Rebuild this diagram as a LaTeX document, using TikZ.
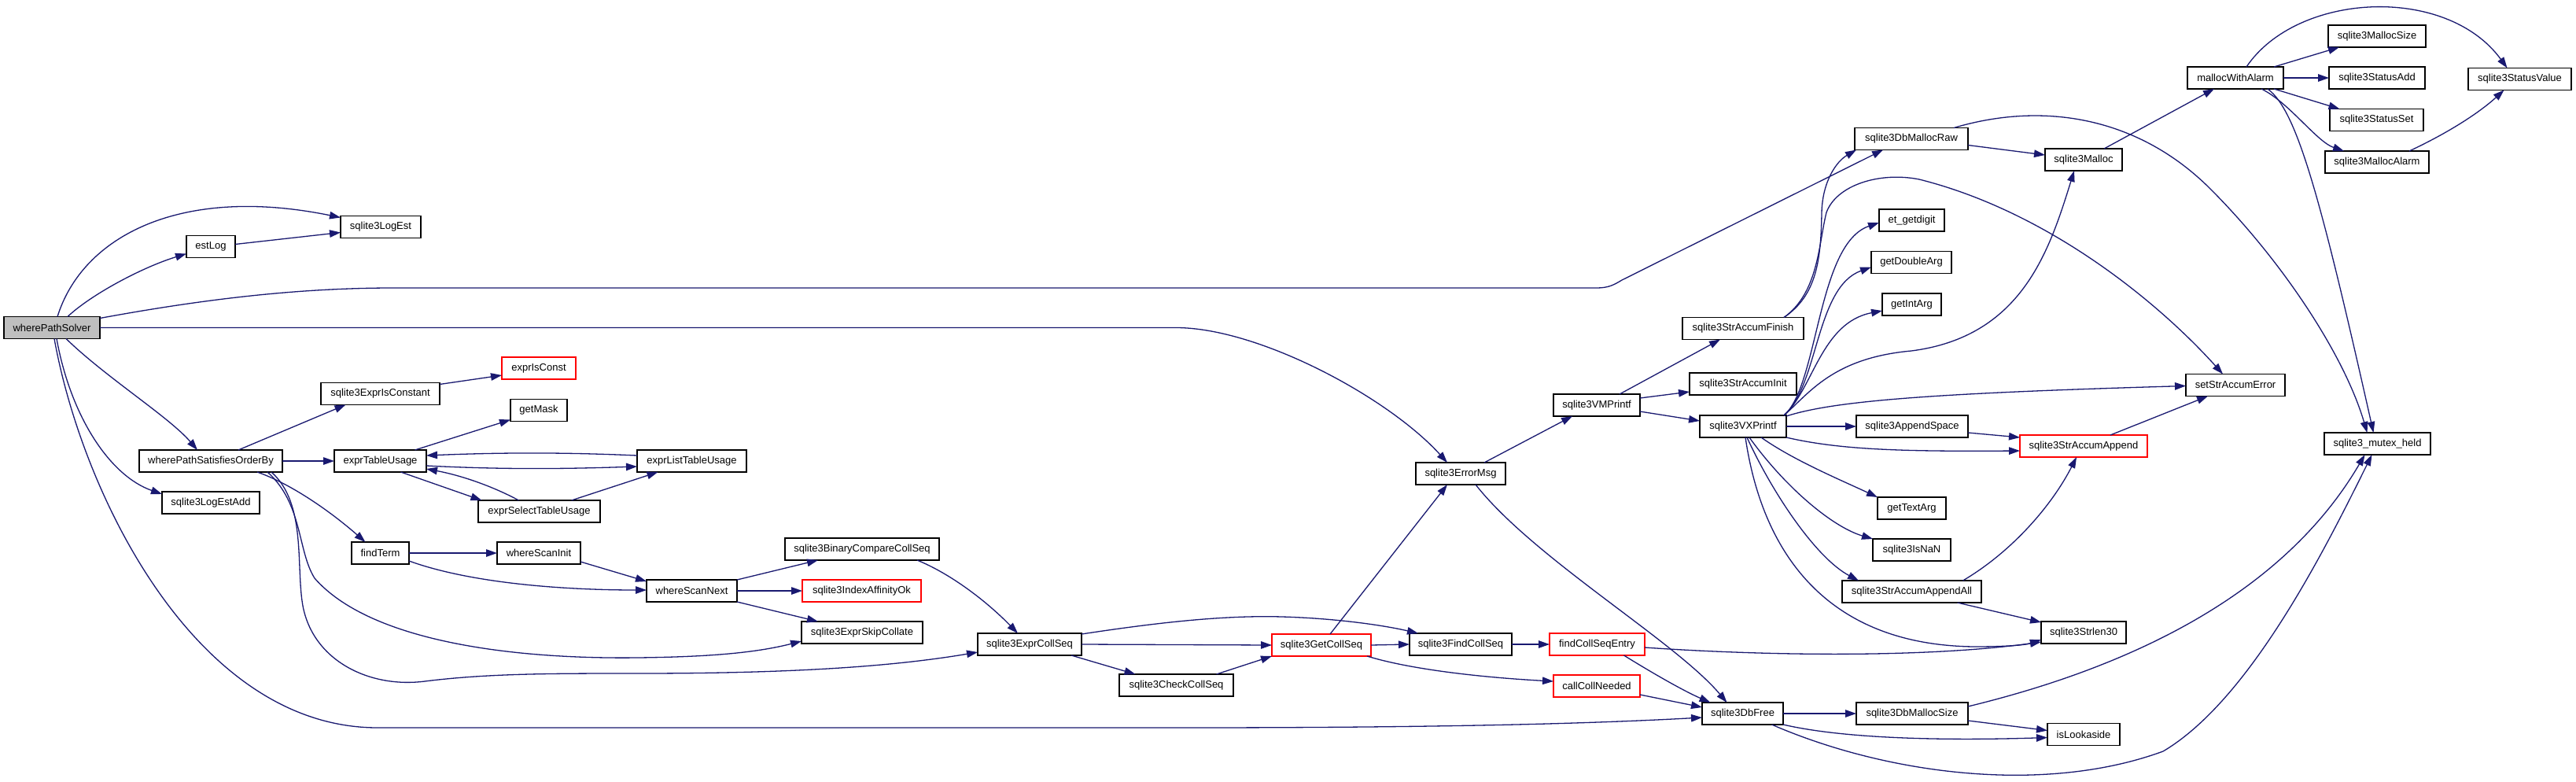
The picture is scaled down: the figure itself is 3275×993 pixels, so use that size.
\documentclass[tikz,border=0pt]{standalone}
\usepackage{fontspec}
\setmainfont{Liberation Sans}
\usetikzlibrary{arrows.meta}
\definecolor{edgeblue}{HTML}{191970}
\definecolor{curgray}{HTML}{BFBFBF}
\tikzset{
  fn/.style={draw=black, line width=1.6pt, fill=white, minimum height=28pt, inner sep=0pt, outer sep=0pt, font=\fontsize{13}{15}\selectfont},
  redb/.style={draw=red},
  cur/.style={fill=curgray},
  cl/.style={draw=edgeblue, line width=1.3pt, -{Triangle[length=14pt,width=9.5pt]}, fill=none}
}
\begin{document}
\begin{tikzpicture}[x=1pt,y=-1pt]
\fill[white] (0,0) rectangle (3275,993);
\useasboundingbox (0,0) rectangle (3275,993);
% nodes
\node[fn,cur,minimum width=122pt] (wps) at (66,416.5) {wherePathSolver};
\node[fn,minimum width=102pt] (logest) at (484,288.5) {sqlite3LogEst};
\node[fn,minimum width=62pt] (estlog) at (268,313.5) {estLog};
\node[fn,redb,minimum width=94pt] (isconst) at (685,468) {exprIsConst};
\node[fn,minimum width=151pt] (eic) at (483.5,500.5) {sqlite3ExprIsConstant};
\node[fn,minimum width=72pt] (getmask) at (685,521.5) {getMask};
\node[fn,minimum width=182pt] (wpsob) at (268,586) {wherePathSatisfiesOrderBy};
\node[fn,minimum width=117pt] (etu) at (483.5,586) {exprTableUsage};
\node[fn,minimum width=139pt] (eltu) at (879.5,586) {exprListTableUsage};
\node[fn,minimum width=124pt] (lea) at (268,639) {sqlite3LogEstAdd};
\node[fn,minimum width=155pt] (estu) at (685.5,650) {exprSelectTableUsage};
\node[fn,minimum width=73pt] (findterm) at (483.5,703) {findTerm};
\node[fn,minimum width=106pt] (wsi) at (685,703) {whereScanInit};
\node[fn,minimum width=196pt] (bccs) at (1096,698) {sqlite3BinaryCompareCollSeq};
\node[fn,minimum width=115pt] (wsn) at (879.5,751) {whereScanNext};
\node[fn,redb,minimum width=151pt] (iao) at (1095.5,751) {sqlite3IndexAffinityOk};
\node[fn,minimum width=154pt] (esc) at (1096,804) {sqlite3ExprSkipCollate};
\node[fn,minimum width=132pt] (ecs) at (1309,819) {sqlite3ExprCollSeq};
\node[fn,minimum width=145pt] (ccs) at (1495.5,871) {sqlite3CheckCollSeq};
\node[fn,redb,minimum width=126pt] (gcs) at (1680,820) {sqlite3GetCollSeq};
\node[fn,minimum width=130pt] (fcs) at (1857,819) {sqlite3FindCollSeq};
\node[fn,redb,minimum width=121pt] (fcse) at (2030.5,819) {findCollSeqEntry};
\node[fn,redb,minimum width=110pt] (ccn) at (2030,872) {callCollNeeded};
\node[fn,minimum width=103pt] (dbfree) at (2215.5,907) {sqlite3DbFree};
\node[fn,minimum width=114pt] (errmsg) at (1857,602) {sqlite3ErrorMsg};
\node[fn,minimum width=110pt] (vmp) at (2030,515) {sqlite3VMPrintf};
\node[fn,minimum width=110pt] (vxp) at (2216,542) {sqlite3VXPrintf};
\node[fn,minimum width=136pt] (sai) at (2216,488) {sqlite3StrAccumInit};
\node[fn,minimum width=154pt] (saf) at (2216,417.5) {sqlite3StrAccumFinish};
\node[fn,minimum width=144pt] (dbmr) at (2430,176.5) {sqlite3DbMallocRaw};
\node[fn,minimum width=83pt] (etg) at (2430.5,280) {et\_getdigit};
\node[fn,minimum width=102pt] (gda) at (2430,333.5) {getDoubleArg};
\node[fn,minimum width=75pt] (gia) at (2430.5,387) {getIntArg};
\node[fn,minimum width=142pt] (aps) at (2431,542) {sqlite3AppendSpace};
\node[fn,minimum width=87pt] (gta) at (2430.5,646) {getTextArg};
\node[fn,minimum width=99pt] (isnan) at (2430.5,699) {sqlite3IsNaN};
\node[fn,minimum width=177pt] (saaa) at (2430.5,752) {sqlite3StrAccumAppendAll};
\node[fn,minimum width=142pt] (dbms) at (2431,907) {sqlite3DbMallocSize};
\node[fn,minimum width=122pt] (mwa) at (2842,99) {mallocWithAlarm};
\node[fn,minimum width=124pt] (msize) at (3022,46) {sqlite3MallocSize};
\node[fn,minimum width=122pt] (sadd) at (3022,99) {sqlite3StatusAdd};
\node[fn,minimum width=119pt] (sset) at (3021.5,152.5) {sqlite3StatusSet};
\node[fn,minimum width=132pt] (malarm) at (3022,206) {sqlite3MallocAlarm};
\node[fn,minimum width=131pt] (sval) at (3203.5,100.5) {sqlite3StatusValue};
\node[fn,minimum width=98pt] (malloc) at (2649,203) {sqlite3Malloc};
\node[fn,minimum width=126pt] (sase) at (2842,489.5) {setStrAccumError};
\node[fn,redb,minimum width=162pt] (saa) at (2649,567) {sqlite3StrAccumAppend};
\node[fn,minimum width=135pt] (mutex) at (3022.5,564) {sqlite3\_mutex\_held};
\node[fn,minimum width=108pt] (strlen) at (2649,804) {sqlite3Strlen30};
\node[fn,minimum width=92pt] (look) at (2649,933.5) {isLookaside};
% edges
\draw[cl] ([xshift=7pt]wps.north) .. controls (105,300) and (230,235) .. ([yshift=12pt]logest.west);
\draw[cl] ([xshift=20pt]wps.north) .. controls (115,375) and (180,340) .. ([yshift=-9pt]estlog.west);
\draw[cl] ([yshift=3pt]estlog.east) -- ([yshift=-7pt]logest.west);
\draw[cl] ([yshift=12pt]wps.east) .. controls (260,380) and (380,366) .. (500,366) -- (2030,366) .. controls (2045,366) and (2052,362) .. (2062,356) -- ([xshift=-36pt]dbmr.south);
\draw[cl] (wps.east) -- (1495,416.5) .. controls (1600,416.5) and (1765,505) .. ([xshift=-17pt]errmsg.north);
\draw[cl] ([xshift=18pt]wps.south) .. controls (135,480) and (215,530) .. ([xshift=-17pt]wpsob.north);
\draw[cl] ([xshift=6pt]wps.south) .. controls (90,530) and (140,605) .. ([yshift=11pt]lea.west);
\draw[cl] ([xshift=3pt]wps.south) .. controls (105,630) and (250,925) .. (480,925) -- (1500,925) .. controls (1800,925) and (2000,921) .. ([yshift=-5pt]dbfree.west);
\draw[cl] ([xshift=35pt]wpsob.north) -- ([xshift=-44pt]eic.south);
\draw[cl] ([yshift=12pt]eic.east) -- ([yshift=-9pt]isconst.west);
\draw[cl] (wpsob.east) -- (etu.west);
\draw[cl] ([xshift=44pt]etu.north) -- ([yshift=-12pt]getmask.west);
\draw[cl] ([yshift=-6pt]etu.east) .. controls (640,597) and (720,596) .. ([yshift=-7pt]eltu.west);
\draw[cl] ([yshift=7pt]eltu.west) .. controls (720,575) and (640,575) .. ([yshift=7pt]etu.east);
\draw[cl] ([xshift=26pt]etu.south) -- ([xshift=-73pt]estu.north);
\draw[cl] ([xshift=-26pt]estu.north) .. controls (630,620) and (590,605) .. ([yshift=-10pt]etu.east);
\draw[cl] ([xshift=41pt]estu.north) -- ([xshift=-43pt]eltu.south);
\draw[cl] ([xshift=59pt]wpsob.south) .. controls (370,615) and (420,650) .. ([xshift=-19pt]findterm.north);
\draw[cl] (findterm.east) -- (wsi.west);
\draw[cl] ([yshift=-10pt]findterm.east) .. controls (600,742) and (720,750) .. ([yshift=1pt]wsn.west);
\draw[cl] ([yshift=-11pt]wsi.east) -- ([yshift=12pt]wsn.west);
\draw[cl] (wsn.north east) -- ([xshift=-56pt]bccs.south);
\draw[cl] (wsn.east) -- (iao.west);
\draw[cl] (wsn.south east) -- ([xshift=-56pt]esc.north);
\draw[cl] ([xshift=72pt]wpsob.south) .. controls (385,640) and (378,700) .. (400,735) .. controls (470,815) and (650,838) .. (810,836) .. controls (900,835) and (960,830) .. ([yshift=3pt]esc.south west);
\draw[cl] ([xshift=77pt]wpsob.south) .. controls (390,640) and (376,720) .. (385,770) .. controls (398,840) and (470,875) .. (540,866) .. controls (620,856) and (700,856) .. (810,856) .. controls (1000,856) and (1130,848) .. ([yshift=-10pt]ecs.west);
\draw[cl] ([xshift=70pt]bccs.south) .. controls (1210,730) and (1255,765) .. ([xshift=-15pt]ecs.north);
\draw[cl] (ecs.east) -- (gcs.west);
\draw[cl] ([xshift=53pt]ecs.south) -- ([xshift=-52pt]ccs.north);
\draw[cl] ([xshift=51pt]ccs.north) -- (gcs.south west);
\draw[cl] ([yshift=13pt]ecs.east) .. controls (1480,790) and (1560,782) .. (1630,784) .. controls (1700,786) and (1760,795) .. ([xshift=-54pt]fcs.north);
\draw[cl] ([xshift=11pt]gcs.north) -- ([xshift=-17pt]errmsg.south);
\draw[cl] (gcs.east) -- (fcs.west);
\draw[cl] ([xshift=-5pt]gcs.south east) .. controls (1800,853) and (1900,862) .. ([yshift=6pt]ccn.west);
\draw[cl] (fcs.east) -- (fcse.west);
\draw[cl] ([xshift=34pt]fcse.south) .. controls (2100,855) and (2140,878) .. ([xshift=-41pt]dbfree.north);
\draw[cl] ([yshift=-4pt]fcse.east) .. controls (2250,834) and (2450,836) .. ([yshift=-12pt]strlen.west);
\draw[cl] ([yshift=-11pt]ccn.east) -- ([yshift=8pt]dbfree.west);
\draw[cl] ([xshift=30pt]errmsg.north) -- ([xshift=-31pt]vmp.south);
\draw[cl] ([xshift=19pt]errmsg.south) .. controls (1950,710) and (2130,815) .. ([xshift=-20pt]dbfree.north);
\draw[cl] ([xshift=29pt]vmp.north) -- ([xshift=-29pt]saf.south);
\draw[cl] ([yshift=9pt]vmp.east) -- ([yshift=-10pt]sai.west);
\draw[cl] ([yshift=-8pt]vmp.east) -- ([yshift=7pt]vxp.west);
\draw[cl] ([xshift=52pt]saf.north) .. controls (2310,375) and (2315,330) .. (2316,270) .. controls (2317,230) and (2335,205) .. ([xshift=-70pt]dbmr.south);
\draw[cl] ([xshift=52pt]saf.north) .. controls (2312,372) and (2312,310) .. (2322,270) .. controls (2335,235) and (2390,218) .. (2440,228) .. controls (2600,268) and (2740,380) .. ([xshift=-16pt]sase.north);
\draw[cl] ([xshift=-3pt]vxp.north east) .. controls (2312,490) and (2310,310) .. ([yshift=-3pt]etg.west);
\draw[cl] ([xshift=-3pt]vxp.north east) .. controls (2312,490) and (2308,365) .. ([yshift=-6pt]gda.west);
\draw[cl] ([xshift=-3pt]vxp.north east) .. controls (2305,495) and (2315,410) .. ([yshift=-8pt]gia.west);
\draw[cl] ([xshift=-3pt]vxp.north east) .. controls (2300,500) and (2330,455) .. (2430,446) .. controls (2570,428) and (2605,320) .. ([xshift=-12pt]malloc.south);
\draw[cl] ([yshift=-1pt]vxp.north east) .. controls (2330,510) and (2450,500) .. ([yshift=-1pt]sase.west);
\draw[cl] (vxp.east) -- (aps.west);
\draw[cl] (vxp.south east) .. controls (2340,572) and (2420,574) .. ([yshift=-6pt]saa.west);
\draw[cl] ([xshift=23pt]vxp.south) .. controls (2280,585) and (2340,610) .. (gta.north west);
\draw[cl] ([xshift=8pt]vxp.south) .. controls (2270,620) and (2330,670) .. (isnan.north west);
\draw[cl] ([xshift=5pt]vxp.south) .. controls (2255,630) and (2310,710) .. ([xshift=21pt]saaa.north west);
\draw[cl] ([xshift=3pt]vxp.south) .. controls (2240,700) and (2320,820) .. (2510,822) .. controls (2550,822) and (2575,820) .. ([yshift=-9pt]strlen.west);
\draw[cl] ([yshift=-8pt]aps.east) -- ([yshift=11pt]saa.west);
\draw[cl] ([xshift=65pt]saaa.north) .. controls (2560,700) and (2610,640) .. ([xshift=-9pt]saa.south);
\draw[cl] ([xshift=58pt]saaa.south) -- ([yshift=13pt]strlen.west);
\draw[cl] ([xshift=34pt]saa.north) -- ([xshift=-35pt]sase.south);
\draw[cl] ([yshift=-8pt]dbmr.east) -- ([yshift=6pt]malloc.west);
\draw[cl] ([xshift=54pt]dbmr.north) .. controls (2600,128) and (2720,150) .. (2810,240) .. controls (2900,330) and (2980,450) .. ([xshift=-13pt]mutex.north);
\draw[cl] ([xshift=26pt]malloc.north) -- ([xshift=-27pt]mwa.south);
\draw[cl] ([xshift=49pt]mwa.north) -- ([xshift=-48pt]msize.south);
\draw[cl] (mwa.east) -- (sadd.west);
\draw[cl] ([xshift=49pt]mwa.south) -- ([xshift=-47pt]sset.north);
\draw[cl] ([xshift=33pt]mwa.south) .. controls (2910,130) and (2945,180) .. ([xshift=-42pt]malarm.north);
\draw[cl] ([xshift=41pt]mwa.south) .. controls (2920,140) and (2950,250) .. ([xshift=-5pt]mutex.north);
\draw[cl] ([xshift=14pt]mwa.north) .. controls (2920,-10) and (3110,-20) .. ([xshift=-16pt]sval.north);
\draw[cl] ([xshift=41pt]malarm.north) .. controls (3110,170) and (3150,145) .. ([xshift=-20pt]sval.south);
\draw[cl] (dbfree.east) -- (dbms.west);
\draw[cl] (dbfree.south east) .. controls (2340,938) and (2460,942) .. ([yshift=-4pt]look.west);
\draw[cl] ([xshift=37pt]dbfree.south) .. controls (2400,985) and (2600,1010) .. (2750,955) .. controls (2860,890) and (2955,700) .. ([xshift=-7pt]mutex.south);
\draw[cl] ([yshift=9pt]dbms.east) .. controls (2700,850) and (2900,760) .. ([xshift=-16pt]mutex.south);
\draw[cl] ([yshift=-9pt]dbms.east) -- ([yshift=5pt]look.west);
\end{tikzpicture}
\end{document}
